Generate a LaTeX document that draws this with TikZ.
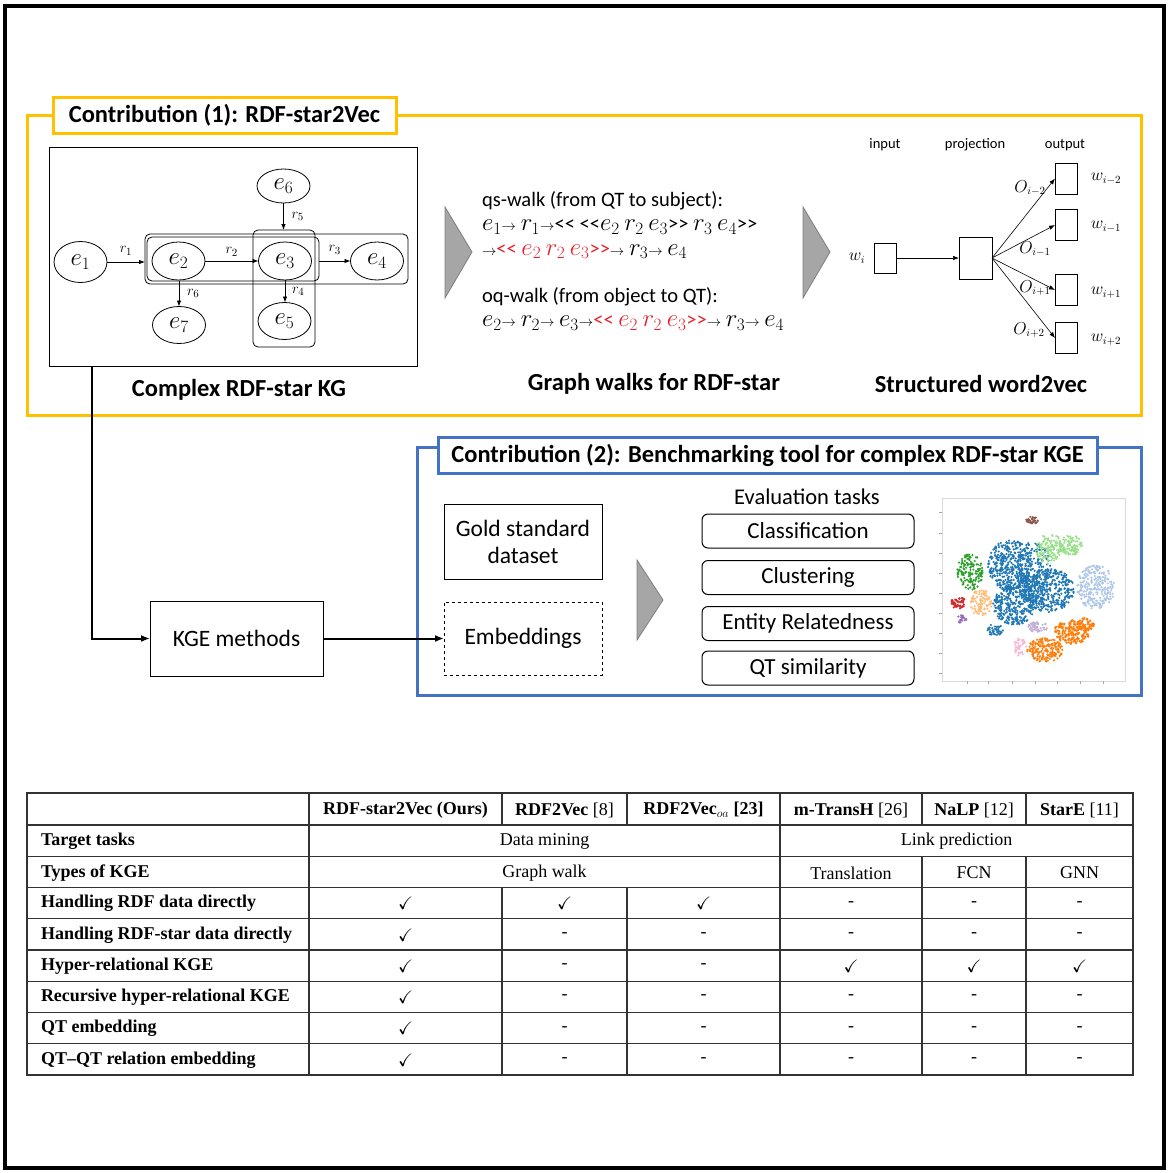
\documentclass[tikz,border=0pt]{standalone}
\usepackage{amssymb}
\usepackage{graphicx}
\usepackage{fontspec}
\setmainfont{Carlito}
\newfontfamily\tabfont{Liberation Serif}
\usetikzlibrary{shapes.geometric,arrows.meta,positioning,calc}
% larger math in the graph and in the walks
\DeclareMathSizes{21}{25}{18}{14}
\DeclareMathSizes{20.5}{24}{18}{14}

\definecolor{contribA}{HTML}{FFC000}
\definecolor{contribB}{HTML}{4472C4}
\definecolor{walkred}{HTML}{E8202A}
\definecolor{tri}{HTML}{A6A6A6}
\definecolor{tridark}{HTML}{7F7F7F}
\definecolor{tabblue}{HTML}{1F77B4}
\definecolor{taborange}{HTML}{FF7F0E}
\definecolor{tabgreen}{HTML}{2CA02C}
\definecolor{tabred}{HTML}{D62728}
\definecolor{tabpurple}{HTML}{9467BD}
\definecolor{tabbrown}{HTML}{8C564B}
\definecolor{tabpink}{HTML}{F7B6D2}
\definecolor{tablgreen}{HTML}{98DF8A}
\definecolor{tablblue}{HTML}{AEC7E8}
\definecolor{tablpurple}{HTML}{C5B0D5}
\definecolor{tablorange}{HTML}{FFBB78}

\newcommand\qto{<{}<}
\newcommand\qtc{>{}>}
\newcommand\wto{{\fontsize{15}{15}\selectfont$\rightarrow$}}
\newcommand\ck{$\checkmark$}
% one cloud of points of the t-SNE plot
\newcommand\blob[6]{%
  \foreach \k in {1,...,#6}{
    \pgfmathsetmacro\blobang{360*rnd}
    \pgfmathsetmacro\blobrad{sqrt(rnd)}
    \fill[#1] ({#2+#4*\blobrad*cos(\blobang)},{#3+#5*\blobrad*sin(\blobang)}) circle (1.2pt);
  }}

\begin{document}
\begin{tikzpicture}[x=1pt,y=-1pt,
  every node/.style={inner sep=0pt, outer sep=0pt},
  contribframe/.style={line width=3pt},
  titlebox/.style={draw, fill=white, line width=3pt, minimum height=36pt, font=\fontsize{24.5}{26}\selectfont\bfseries},
  partcaption/.style={font=\fontsize{24.5}{26}\selectfont\bfseries},
  entity/.style={draw, ellipse, line width=0.8pt, minimum width=53pt, minimum height=38pt, font=\fontsize{21}{21}\selectfont},
  qtframe/.style={draw, rounded corners=5pt, line width=0.8pt},
  rel/.style={font=\fontsize{15}{15}\selectfont},
  arr/.style={-{Latex[length=6pt,width=4.5pt]}, line width=0.8pt},
  flow/.style={-{Latex[length=9pt,width=7pt]}, line width=2pt},
  chevron/.style={fill=tri, draw=tridark, line width=0.8pt},
  walkblock/.style={anchor=west, align=left, font=\fontsize{20.5}{24.5}\selectfont},
  layername/.style={font=\fontsize{14.5}{16}\selectfont},
  neuron/.style={draw, line width=0.8pt},
  wlabel/.style={font=\fontsize{16}{18}\selectfont},
  plainbox/.style={draw, line width=1pt, minimum width=158pt, align=center, font=\fontsize{23.5}{27}\selectfont},
  taskbox/.style={draw, rounded corners=6pt, line width=1pt, minimum width=212pt, minimum height=34pt, font=\fontsize{23}{24}\selectfont},
  tabline/.style={draw=black!80, line width=1.1pt},
  cell/.style={font=\tabfont\fontsize{18}{20}\selectfont},
  rowlab/.style={anchor=west, font=\tabfont\fontsize{18}{20}\selectfont\bfseries},
]
\useasboundingbox (0,0) rectangle (1168,1173);
\draw[line width=3.5pt] (5,6) rectangle (1164,1168);

%% Contribution (1)
\draw[contribframe, contribA] (27,115) rectangle (1141,415);
\node[titlebox, draw=contribA, minimum width=343pt] (titleA) at (224.5,115) {Contribution (1): RDF-star2Vec};

% complex RDF-star KG
\node[draw, line width=0.8pt, minimum width=368pt, minimum height=219pt] (kgbox) at (233,256.5) {};
\node[qtframe, minimum width=263pt, minimum height=50pt] (qtouter) at (276.5,259) {};
\node[qtframe, minimum width=172pt, minimum height=44pt] (qtinner) at (233,259) {};
\node[qtframe, minimum width=62pt, minimum height=117pt] (qtvert) at (284,288.5) {};
\node[entity, minimum height=41pt] (e1) at (80.5,262) {$e_1$};
\node[entity] (e2) at (178.5,261) {$e_2$};
\node[entity] (e3) at (285,261) {$e_3$};
\node[entity] (e4) at (377,261) {$e_4$};
\node[entity, minimum height=34pt] (e6) at (283.5,186) {$e_6$};
\node[entity, minimum height=37pt] (e7) at (179,325) {$e_7$};
\node[entity, minimum height=37pt] (e5) at (284.5,321) {$e_5$};
\draw[arr] (e1.east) -- (e1.east -| qtouter.west) node[midway, above=7pt, rel] {$r_1$};
\draw[arr] (e2) -- (e3) node[midway, above=5pt, rel] {$r_2$};
\draw[arr] (qtinner.east |- e4) -- (e4) node[midway, above=7pt, rel] {$r_3$};
\draw[arr] (e6) -- (e6.south |- qtvert.north) node[midway, right=8pt, rel] {$r_5$};
\draw[arr] (e7.north |- qtinner.south) -- (e7) node[midway, right=8pt, rel] {$r_6$};
\draw[arr] (e3) -- (e3.south |- e5.north) node[midway, right=7pt, rel] {$r_4$};
\node[partcaption] (capkg) at (239,390) {Complex RDF-star KG};

% graph walks
\filldraw[chevron] (445,207) -- (472,252) -- (445,298) -- cycle;
\node[walkblock] (qswalk) at (482,225) {qs-walk (from QT to subject):\\
  $e_1$\wto\ $r_1$\wto\qto\ \qto$e_2\ r_2\ e_3$\qtc\ $r_3\ e_4$\qtc\\
  \wto{\color{walkred}\qto\ $e_2\ r_2\ e_3$\qtc}\wto\ $r_3$\wto\ $e_4$};
\node[walkblock] (oqwalk) at (482,309) {oq-walk (from object to QT):\\
  $e_2$\wto\ $r_2$\wto\ $e_3$\wto{\color{walkred}\qto\ $e_2\ r_2\ e_3$\qtc}\wto\ $r_3$\wto\ $e_4$};
\node[partcaption] (capwalk) at (654,384) {Graph walks for RDF-star};

% structured word2vec
\filldraw[chevron] (803,207) -- (830,252) -- (803,298) -- cycle;
\node[layername] (lin) at (885,145) {input};
\node[layername] (lproj) at (975,145) {projection};
\node[layername] (lout) at (1065,145) {output};
\node[neuron, minimum width=22pt, minimum height=30pt] (win) at (885,258) {};
\node[neuron, minimum width=33pt, minimum height=42pt] (proj) at (975.5,258) {};
\node[neuron, minimum width=22pt, minimum height=31pt] (outA) at (1066,178.5) {};
\node[neuron, minimum width=22pt, minimum height=31pt] (outB) at (1066,225) {};
\node[neuron, minimum width=22pt, minimum height=31pt] (outC) at (1066,290) {};
\node[neuron, minimum width=22pt, minimum height=31pt] (outD) at (1066,338) {};
\node[wlabel] (wi) at (857,258) {$w_i$};
\node[wlabel] (wA) at (1106,179) {$w_{i-2}$};
\node[wlabel] (wB) at (1106,227) {$w_{i-1}$};
\node[wlabel] (wC) at (1106,293) {$w_{i+1}$};
\node[wlabel] (wD) at (1106,340) {$w_{i+2}$};
\draw[arr, line width=0.6pt] (win) -- (proj);
\draw[arr, line width=0.6pt] (proj.east) -- (outA.west);
\draw[arr, line width=0.6pt] (proj.east) -- (outB.west);
\draw[arr, line width=0.6pt] (proj.east) -- (outC.west);
\draw[arr, line width=0.6pt] (proj.east) -- (outD.west);
\node[wlabel] (oA) at (1030,188) {$O_{i-2}$};
\node[wlabel] (oB) at (1035,249) {$O_{i-1}$};
\node[wlabel] (oC) at (1035,288) {$O_{i+1}$};
\node[wlabel] (oD) at (1029,330) {$O_{i+2}$};
\node[partcaption] (capw2v) at (981,384) {Structured word2vec};

%% Contribution (2)
\draw[contribframe, contribB] (417,447) rectangle (1141,695);
\node[titlebox, draw=contribB, minimum width=659pt] (titleB) at (767.5,455) {Contribution (2): Benchmarking tool for complex RDF-star KGE};
\node[plainbox, minimum height=75pt] (gold) at (523,541.5) {Gold standard\\dataset};
\node[plainbox, dashed, minimum height=73pt] (emb) at (523,638.5) {Embeddings};
\node[plainbox, minimum width=173pt, minimum height=75pt] (kge) at (236.5,638.5) {KGE methods};
\coordinate (tap) at (92,366);
\draw[flow] (tap) |- (kge);
\draw[flow] (kge) -- (emb);
\filldraw[chevron] (637,560) -- (663,600) -- (637,640) -- cycle;
\node[font=\fontsize{22.5}{24}\selectfont] (evaltitle) at (807,497) {Evaluation tasks};
\node[taskbox] (classif) at (808,531) {Classification};
\node[taskbox] (cluster) at (808,577.5) {Clustering};
\node[taskbox] (relat) at (808,623.5) {Entity Relatedness};
\node[taskbox] (qtsim) at (808,668) {QT similarity};

% t-SNE plot of the embeddings
\draw[black!15, line width=0.8pt] (942,498) rectangle (1125,681);
\foreach \ty in {512,533,553,573,593,613,633,653,673} \draw[black!35] (939,\ty) -- (942,\ty);
\foreach \tx in {967,988,1012,1035,1057,1080,1103} \draw[black!35] (\tx,681) -- (\tx,684);
\pgfmathsetseed{7}
\blob{tabblue}{1010}{565}{22}{25}{380}
\blob{tabblue}{1048}{590}{26}{22}{380}
\blob{tabblue}{1015}{605}{22}{20}{320}
\blob{tabblue}{1033}{572}{18}{30}{220}
\blob{tabblue}{995}{630}{8}{6}{40}
\blob{tabbrown}{1032}{520}{6}{4}{35}
\blob{tablgreen}{1050}{549}{14}{15}{130}
\blob{tablgreen}{1071}{545}{12}{10}{90}
\blob{tabgreen}{970}{572}{13}{18}{150}
\blob{tablorange}{981}{603}{11}{14}{100}
\blob{tabred}{958}{603}{8}{6}{50}
\blob{tabpurple}{962}{619}{5}{4}{20}
\blob{tablblue}{1096}{587}{19}{22}{260}
\blob{tablpurple}{1038}{627}{10}{5}{50}
\blob{tabpink}{1020}{647}{6}{9}{40}
\blob{taborange}{1045}{650}{18}{12}{190}
\blob{taborange}{1072}{632}{18}{12}{190}
\blob{taborange}{1086}{624}{8}{8}{60}

%% comparison table
\draw[tabline] (27,793) rectangle (1133,1075);
\foreach \yy in {856.25,887.5,918.75,950,981.25,1012.5,1043.75}
  \draw[tabline] (27,\yy) -- (1133,\yy);
\draw[tabline, line width=2.2pt] (27,825) -- (1133,825);
\foreach \xx in {309,780} \draw[tabline] (\xx,793) -- (\xx,1075);
\foreach \xx in {502,627} {
  \draw[tabline] (\xx,793) -- (\xx,825);
  \draw[tabline] (\xx,887.5) -- (\xx,1075);
}
\foreach \xx in {922,1026} {
  \draw[tabline] (\xx,793) -- (\xx,825);
  \draw[tabline] (\xx,856.25) -- (\xx,1075);
}
\node[cell] (hA) at (405.5,810) {\bfseries RDF-star2Vec (Ours)};
\node[cell] (hB) at (564.5,810) {\textbf{RDF2Vec} [8]};
\node[cell] (hC) at (703.5,810) {\bfseries RDF2Vec$_{oa}$ [23]};
\node[cell] (hD) at (851,810) {\textbf{m-TransH} [26]};
\node[cell] (hE) at (974,810) {\textbf{NaLP} [12]};
\node[cell] (hF) at (1079.5,810) {\textbf{StarE} [11]};
\node[rowlab] (target) at (41,841.5) {Target tasks};
\node[cell] (mining) at (544.5,841.5) {Data mining};
\node[cell] (linkpred) at (956.5,841.5) {Link prediction};
\node[rowlab] (types) at (41,873) {Types of KGE};
\node[cell] (gwalk) at (544.5,873) {Graph walk};
\node[cell] (transl) at (851,873) {Translation};
\node[cell] (fcn) at (974,873) {FCN};
\node[cell] (gnn) at (1079.5,873) {GNN};
\foreach \lab/\vals [count=\r] in {
  {Handling RDF data directly}/{\ck,\ck,\ck,-,-,-},
  {Handling RDF-star data directly}/{\ck,-,-,-,-,-},
  {Hyper-relational KGE}/{\ck,-,-,\ck,\ck,\ck},
  {Recursive hyper-relational KGE}/{\ck,-,-,-,-,-},
  {QT embedding}/{\ck,-,-,-,-,-},
  {QT\textendash QT relation embedding}/{\ck,-,-,-,-,-}} {
  \pgfmathsetmacro\ry{903.6+31.25*(\r-1)}
  \node[rowlab] (row\r) at (41,\ry) {\lab};
  \foreach \v [count=\c] in \vals {
    \pgfmathsetmacro\cx{{405.5,564.5,703.5,851,974,1079.5}[\c-1]}
    \node[cell] (cell\r\c) at (\cx,\ry) {\v};
  }
}
\end{tikzpicture}
\end{document}
